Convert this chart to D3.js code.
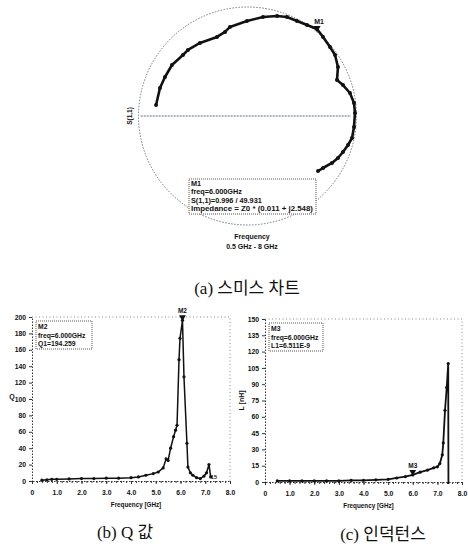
<!DOCTYPE html>
<html>
<head>
<meta charset="utf-8">
<script src="https://cdn.jsdelivr.net/npm/d3@7"></script>
<style>
  body { margin: 0; background: #fff; }
  svg text { font-family: "Liberation Sans", Arial, sans-serif; font-weight: bold; fill: #111; }
  .cap { font-family: "Liberation Serif", "Noto Sans CJK KR", serif; font-weight: normal; }
</style>
</head>
<body>
<div id="chart"></div>
<script>
// smith chart trace, S(1,1) as reflection coefficient (re, im), 0.5 -> 8 GHz
const sRe = [-0.839, -0.803, -0.757, -0.693, -0.592, -0.546, -0.436, -0.280, -0.206, -0.161, -0.005, 0.142, 0.271, 0.362, 0.454, 0.546, 0.638, 0.693, 0.757, 0.803, 0.830, 0.821, 0.876, 0.940, 0.977, 0.986, 0.977, 0.959, 0.922, 0.876, 0.830, 0.775, 0.693, 0.647]
const sIm = [0.101, 0.257, 0.358, 0.468, 0.560, 0.606, 0.670, 0.725, 0.771, 0.817, 0.872, 0.908, 0.917, 0.908, 0.872, 0.835, 0.798, 0.725, 0.633, 0.560, 0.450, 0.330, 0.284, 0.211, 0.119, 0.028, -0.101, -0.202, -0.266, -0.330, -0.385, -0.431, -0.477, -0.505]
const m1Index = 16
const m1Text = ["M1", "freq=6.000GHz", "S(1,1)=0.996 / 49.931", "Impedance = Z0 * (0.011 + j2.548)"]

// Q factor
const qFreq = [0.4, 0.6, 0.8, 1.0, 1.5, 2.0, 2.5, 3.0, 3.5, 4.0, 4.3, 4.6, 4.9, 5.1, 5.3, 5.42, 5.5, 5.6, 5.72, 5.8, 5.86, 5.94, 5.98, 6.08, 6.14, 6.26, 6.3, 6.4, 6.5, 6.65, 6.8, 6.95, 7.05, 7.15, 7.22]
const qVal = [1, 1.5, 2, 2, 2.5, 3, 3, 3.5, 3.5, 4, 5, 7, 9, 11, 16, 27, 25, 40, 54, 62, 68, 148, 174, 196, 127, 46, 17, 10, 7, 4, 3, 6, 10, 20, 5]
const qTicks = [0, 20, 40, 60, 80, 100, 120, 140, 160, 180, 200]
const m2Freq = 6.08
const m2Text = ["M2", "freq=6.000GHz", "Q1=194.259"]

// inductance [nH]
const lFreq = [0.5, 1.0, 1.5, 2.0, 2.5, 3.0, 3.5, 4.0, 4.5, 5.0, 5.35, 5.7, 6.0, 6.3, 6.6, 6.85, 7.0, 7.1, 7.2, 7.24, 7.31, 7.38, 7.44, 7.45]
const lVal = [1, 1, 1, 1, 1, 1, 1.5, 1.5, 2, 2.5, 3.7, 5, 6.5, 9, 11, 13, 14, 17, 25, 36, 66, 87, 109, -10]
const lTicks = [0, 15, 30, 45, 60, 75, 90, 105, 120, 135, 150]
const m3Freq = 6.0
const m3Text = ["M3", "freq=6.000GHz", "L1=6.511E-9"]

const freqTicks = [0, 1, 2, 3, 4, 5, 6, 7, 8]

const width = 468
const height = 549

const svg = d3.select('#chart').append('svg')
  .attr('width', width)
  .attr('height', height)

// ---------- (a) smith chart
const cx = 247.5, cy = 116, R = 109
const gx = d3.scaleLinear().domain([-1, 1]).range([cx - R, cx + R])
const gy = d3.scaleLinear().domain([-1, 1]).range([cy + R, cy - R])
const smith = sRe.map((d, i) => ({ re: d, im: sIm[i] }))

svg.append('circle')
  .attr('cx', gx(0)).attr('cy', gy(0)).attr('r', gx(1) - gx(0))
  .attr('fill', 'none').attr('stroke', '#6b7694').attr('stroke-width', 1)
  .attr('stroke-dasharray', '1.5,1.5')

svg.append('line')
  .attr('x1', gx(-0.98)).attr('x2', gx(0.95))
  .attr('y1', gy(0)).attr('y2', gy(0))
  .attr('stroke', '#5d6a8c').attr('stroke-width', 1)
  .attr('stroke-dasharray', '2,1')

svg.append('text')
  .attr('transform', `translate(${gx(-1) - 7},${gy(0)}) rotate(-90)`)
  .attr('text-anchor', 'middle')
  .style('font-size', '6.5px')
  .text('S(1,1)')

svg.append('path')
  .datum(smith)
  .attr('fill', 'none').attr('stroke', '#111').attr('stroke-width', 2.6)
  .attr('stroke-linejoin', 'round')
  .attr('d', d3.line().x(d => gx(d.re)).y(d => gy(d.im)))

svg.selectAll('.sdot').data(smith).enter().append('circle')
  .attr('class', 'sdot')
  .attr('cx', d => gx(d.re)).attr('cy', d => gy(d.im)).attr('r', 2)
  .attr('fill', '#111')

const m1 = smith[m1Index]
svg.append('path')
  .attr('d', d3.symbol(d3.symbolTriangle, 22)())
  .attr('transform', `translate(${gx(m1.re)},${gy(m1.im) - 1}) rotate(180)`)
  .attr('fill', '#111')
svg.append('text')
  .attr('x', gx(m1.re) + 2).attr('y', gy(m1.im) - 5)
  .attr('text-anchor', 'middle')
  .style('font-size', '7px')
  .text('M1')

const box1 = svg.append('g').attr('transform', 'translate(189,179)')
box1.append('rect').attr('width', 127).attr('height', 35)
  .attr('fill', '#fff').attr('stroke', '#555').attr('stroke-dasharray', '1,1')
box1.selectAll('text').data(m1Text).enter().append('text')
  .attr('x', 2).attr('y', (d, i) => 7 + i * 8.4)
  .style('font-size', '7.3px')
  .attr('textLength', (d, i) => i === 3 ? 122 : null)
  .attr('lengthAdjust', 'spacingAndGlyphs')
  .text(d => d)

svg.append('text').attr('x', 252).attr('y', 239)
  .attr('text-anchor', 'middle').style('font-size', '7px').text('Frequency')
svg.append('text').attr('x', 252).attr('y', 249)
  .attr('text-anchor', 'middle').style('font-size', '7px').text('0.5 GHz - 8 GHz')

svg.append('text').attr('class', 'cap')
  .attr('x', 247).attr('y', 294)
  .attr('text-anchor', 'middle').style('font-size', '17px')
  .text('(a) 스미스 차트')

// ---------- helper for the two rectangular plots
function panel(opt) {
  const x = d3.scaleLinear().domain([0, 8]).range([opt.left, opt.right])
  const y = d3.scaleLinear().domain(opt.yDomain).range([opt.bottom, opt.top])
  const g = svg.append('g')

  // frame
  g.append('path')
    .attr('d', `M${x(0)},${y(opt.yDomain[1])}H${x(8)}V${y(0)}`)
    .attr('fill', 'none').attr('stroke', '#888').attr('stroke-width', 1)
    .attr('stroke-dasharray', '1,2.5')

  const yAxis = g.append('g')
    .attr('transform', `translate(${x(0)},0)`)
    .call(d3.axisLeft(y).tickValues(opt.yTicks).tickSize(3).tickPadding(3).tickFormat(d3.format('d')))
  const xAxis = g.append('g')
    .attr('transform', `translate(0,${y(0)})`)
    .call(d3.axisBottom(x).tickValues(freqTicks).tickSize(3).tickPadding(6)
      .tickFormat(d => d === 0 ? '0' : d3.format('.1f')(d)))
  // minor ticks on the frequency axis
  g.append('g')
    .attr('transform', `translate(0,${y(0)})`)
    .call(d3.axisBottom(x).ticks(40).tickSize(2).tickFormat(''))
    .call(a => a.select('.domain').remove())
  ;[yAxis, xAxis].forEach(a => {
    a.select('.domain').attr('stroke', '#333').attr('stroke-dasharray', '1.5,1.5')
    a.selectAll('text').style('font-size', '6.8px').style('font-weight', 'bold')
      .style('font-family', '"Liberation Sans", Arial, sans-serif').attr('fill', '#111')
  })
  g.selectAll('.tick line').attr('stroke', '#333')

  g.append('text')
    .attr('x', (x(0) + x(8)) / 2 + 5).attr('y', y(0) + 26)
    .attr('text-anchor', 'middle').style('font-size', '6.3px')
    .text('Frequency [GHz]')
  g.append('text')
    .attr('transform', `translate(${opt.yLabelX},${(y(0) + y(opt.yDomain[1])) / 2}) rotate(${opt.yLabelRot})`)
    .attr('text-anchor', 'middle').style('font-size', '7px')
    .text(opt.yLabel)

  const clipId = 'clip' + opt.id
  g.append('clipPath').attr('id', clipId).append('rect')
    .attr('x', x(0)).attr('y', y(opt.yDomain[1]) - 4)
    .attr('width', x(8) - x(0)).attr('height', y(0) - y(opt.yDomain[1]) + 6)

  const pts = opt.freq.map((f, i) => ({ f: f, v: opt.vals[i] }))
  g.append('path')
    .datum(pts)
    .attr('clip-path', `url(#${clipId})`)
    .attr('fill', 'none').attr('stroke', '#111').attr('stroke-width', opt.lw)
    .attr('d', d3.line().x(d => x(d.f)).y(d => y(d.v)))
  g.selectAll('.dot').data(pts.filter(d => d.v >= 0)).enter().append('circle')
    .attr('cx', d => x(d.f)).attr('cy', d => y(d.v)).attr('r', 1.6)
    .attr('fill', '#111')

  // marker
  const mv = opt.markerVal
  g.append('path')
    .attr('d', d3.symbol(d3.symbolTriangle, 20)())
    .attr('transform', `translate(${x(opt.markerFreq)},${y(mv) - 3}) rotate(180)`)
    .attr('fill', '#111')
  g.append('text')
    .attr('x', x(opt.markerFreq)).attr('y', y(mv) - 7)
    .attr('text-anchor', 'middle').style('font-size', '6.5px')
    .text(opt.markerText[0])

  const box = g.append('g').attr('transform', `translate(${x(0) + 4},${y(opt.yDomain[1]) + 4})`)
  box.append('rect').attr('width', opt.boxW).attr('height', 28)
    .attr('fill', '#fff').attr('stroke', '#555').attr('stroke-dasharray', '1,1')
  box.selectAll('text').data(opt.markerText).enter().append('text')
    .attr('x', 2).attr('y', (d, i) => 8 + i * 8.6)
    .style('font-size', '6.8px')
    .text(d => d)
  return { x, y, g }
}

// ---------- (b) Q
const pb = panel({
  id: 'b', left: 32, right: 230, top: 317, bottom: 481,
  yDomain: [0, 200], yTicks: qTicks, yLabel: 'Q', yLabelX: 12, yLabelRot: 0,
  freq: qFreq, vals: qVal, lw: 1.5,
  markerFreq: m2Freq, markerVal: d3.max(qVal), markerText: m2Text, boxW: 56
})
pb.g.append('text')
  .attr('x', pb.x(7.35)).attr('y', pb.y(2))
  .attr('text-anchor', 'middle').style('font-size', '5.5px')
  .text('15')

svg.append('text').attr('class', 'cap')
  .attr('x', 125).attr('y', 538)
  .attr('text-anchor', 'middle').style('font-size', '17px')
  .text('(b) Q  값')

// ---------- (c) inductance
const m3Val = lVal[lFreq.indexOf(m3Freq)]
panel({
  id: 'c', left: 265, right: 462, top: 319, bottom: 482,
  yDomain: [0, 150], yTicks: lTicks, yLabel: 'L [nH]', yLabelX: 244, yLabelRot: -90,
  freq: lFreq, vals: lVal, lw: 1.8,
  markerFreq: m3Freq, markerVal: m3Val, markerText: m3Text, boxW: 54
})

svg.append('text').attr('class', 'cap')
  .attr('x', 383).attr('y', 540)
  .attr('text-anchor', 'middle').style('font-size', '17px')
  .text('(c) 인덕턴스')
</script>
</body>
</html>
